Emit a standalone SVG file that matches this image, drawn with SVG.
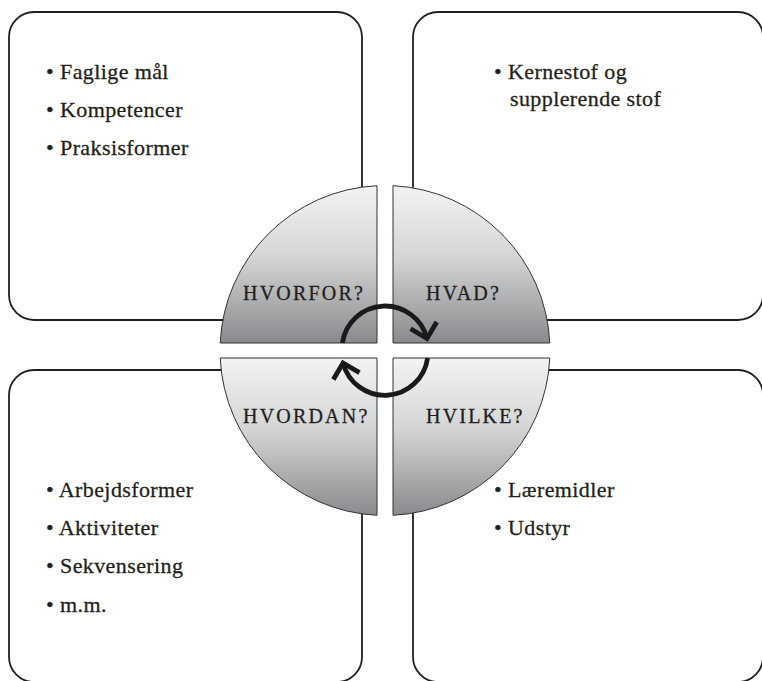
<svg xmlns="http://www.w3.org/2000/svg" width="762" height="681" viewBox="0 0 762 681">
  <style>
    .box { fill: #ffffff; stroke: #231f20; stroke-width: 1.8; }
    .quad { stroke: #333333; stroke-width: 1; }
    .item { font-family: "Liberation Serif", "Times New Roman", serif; font-size: 22px; letter-spacing: 0.4px; fill: #231f20; stroke: #231f20; stroke-width: 0.3; }
    .label { font-family: "Liberation Serif", "Times New Roman", serif; font-size: 20px; letter-spacing: 2.2px; fill: #231f20; stroke: #231f20; stroke-width: 0.3; }
    .cyc { fill: none; stroke: #1a1a1a; stroke-width: 4.8; marker-end: url(#chev); }
  </style>
  <defs>
    <linearGradient id="gq" x1="0" y1="0" x2="0" y2="1">
      <stop offset="0" stop-color="#f3f3f3"/>
      <stop offset="0.45" stop-color="#d4d5d6"/>
      <stop offset="1" stop-color="#898a8d"/>
    </linearGradient>
    <marker id="chev" viewBox="-20 -20 26 40" markerUnits="userSpaceOnUse" markerWidth="26" markerHeight="40" refX="0" refY="0" orient="auto" overflow="visible">
      <path d="M-13.5,-13.5 L0,0 L-13.5,13.5" fill="none" stroke="#1a1a1a" stroke-width="4.8" stroke-linejoin="miter"/>
    </marker>
  </defs>

  <g id="box-hvorfor">
    <rect class="box" x="9" y="12" width="353" height="308" rx="25" ry="25"/>
    <text class="item" x="46" y="79">• Faglige mål</text>
    <text class="item" x="46" y="117">• Kompetencer</text>
    <text class="item" x="46" y="155">• Praksisformer</text>
  </g>
  <g id="box-hvad">
    <rect class="box" x="413" y="12" width="350" height="308" rx="25" ry="25"/>
    <text class="item" x="494" y="79">• Kernestof og</text>
    <text class="item" x="510" y="106">supplerende stof</text>
  </g>
  <g id="box-hvordan">
    <rect class="box" x="9" y="370" width="353" height="312" rx="25" ry="25"/>
    <text class="item" x="46" y="497">• Arbejdsformer</text>
    <text class="item" x="46" y="535">• Aktiviteter</text>
    <text class="item" x="46" y="573">• Sekvensering</text>
    <text class="item" x="46" y="612">• m.m.</text>
  </g>
  <g id="box-hvilke">
    <rect class="box" x="413" y="370" width="350" height="312" rx="25" ry="25"/>
    <text class="item" x="494" y="497">• Læremidler</text>
    <text class="item" x="494" y="535">• Udstyr</text>
  </g>

  <g id="quad-hvorfor">
    <path class="quad" fill="url(#gq)" d="M377,343 L377,185.7 A165,165 0 0 0 220.2,343 Z"/>
    <text class="label" x="243" y="300">HVORFOR?</text>
  </g>
  <g id="quad-hvad">
    <path class="quad" fill="url(#gq)" d="M393,343 L393,185.7 A165,165 0 0 1 549.8,343 Z"/>
    <text class="label" x="426" y="300">HVAD?</text>
  </g>
  <g id="quad-hvordan">
    <path class="quad" fill="url(#gq)" d="M377,358 L377,515.3 A165,165 0 0 1 220.2,358 Z"/>
    <text class="label" x="243" y="423">HVORDAN?</text>
  </g>
  <g id="quad-hvilke">
    <path class="quad" fill="url(#gq)" d="M393,358 L393,515.3 A165,165 0 0 0 549.8,358 Z"/>
    <text class="label" x="426" y="423">HVILKE?</text>
  </g>

  <g id="connectors">
    <path class="cyc" d="M342.4,343 A43.2,43.2 0 0 1 427,338.5"/>
    <path class="cyc" d="M427.6,358 A43.2,43.2 0 0 1 343,363"/>
  </g>
</svg>
